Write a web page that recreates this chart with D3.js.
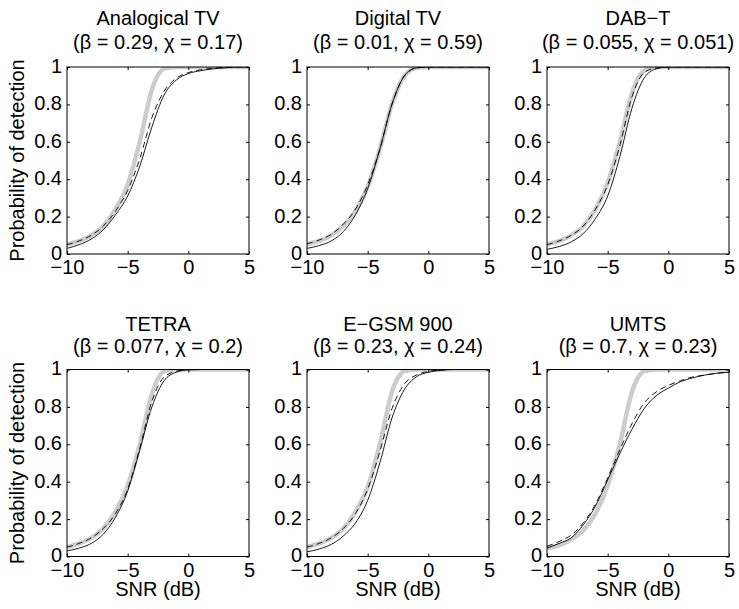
<!DOCTYPE html>
<html>
<head>
<meta charset="utf-8">
<script src="https://cdn.jsdelivr.net/npm/d3@7"></script>
<style>
  html, body { margin: 0; padding: 0; background: #fff; }
  text { font-family: "Liberation Sans", Arial, Helvetica, sans-serif; }
</style>
</head>
<body>
<svg id="chart" width="739" height="609"></svg>
<script>
// ---- data ----
const snr = [-10, -9, -8, -7, -6, -5, -4, -3, -2, -1, 0, 1, 2, 3, 4, 5];
const xTicks = [-10, -5, 0, 5];
const yTicks = [0, 0.2, 0.4, 0.6, 0.8, 1];
const yTickLabels = ["0", "0.2", "0.4", "0.6", "0.8", "1"];

const titles = ["Analogical TV", "Digital TV", "DAB\u2212T", "TETRA", "E\u2212GSM 900", "UMTS"];
const betas = ["0.29", "0.01", "0.055", "0.077", "0.23", "0.7"];
const chis = ["0.17", "0.59", "0.051", "0.2", "0.24", "0.23"];

// Analogical TV
const grayAnalog   = [0.05, 0.07, 0.10, 0.15, 0.24, 0.37, 0.60, 0.88, 0.99, 1, 1, 1, 1, 1, 1, 1];
const solidAnalog  = [0.03, 0.05, 0.08, 0.13, 0.21, 0.31, 0.47, 0.68, 0.85, 0.93, 0.965, 0.98, 0.99, 0.995, 1, 1];
const dashedAnalog = [0.05, 0.07, 0.10, 0.15, 0.23, 0.34, 0.51, 0.73, 0.87, 0.94, 0.97, 0.985, 0.993, 0.998, 1, 1];
// Digital TV
const grayDigital   = [0.05, 0.07, 0.10, 0.15, 0.23, 0.36, 0.56, 0.80, 0.95, 0.995, 1, 1, 1, 1, 1, 1];
const solidDigital  = [0.03, 0.045, 0.07, 0.12, 0.21, 0.35, 0.56, 0.80, 0.95, 0.995, 1, 1, 1, 1, 1, 1];
const dashedDigital = [0.055, 0.075, 0.105, 0.16, 0.24, 0.37, 0.56, 0.80, 0.95, 0.995, 1, 1, 1, 1, 1, 1];
// DAB-T
const grayDab   = [0.05, 0.07, 0.10, 0.15, 0.24, 0.38, 0.60, 0.86, 0.98, 1, 1, 1, 1, 1, 1, 1];
const solidDab  = [0.025, 0.04, 0.065, 0.11, 0.19, 0.31, 0.52, 0.78, 0.94, 0.99, 1, 1, 1, 1, 1, 1];
const dashedDab = [0.05, 0.07, 0.10, 0.15, 0.24, 0.37, 0.58, 0.84, 0.97, 0.995, 1, 1, 1, 1, 1, 1];
// TETRA
const grayTetra   = [0.05, 0.07, 0.10, 0.15, 0.24, 0.38, 0.60, 0.87, 0.99, 1, 1, 1, 1, 1, 1, 1];
const solidTetra  = [0.03, 0.045, 0.07, 0.12, 0.21, 0.35, 0.57, 0.80, 0.94, 0.985, 0.998, 1, 1, 1, 1, 1];
const dashedTetra = [0.05, 0.07, 0.10, 0.15, 0.23, 0.36, 0.58, 0.83, 0.96, 0.99, 1, 1, 1, 1, 1, 1];
// E-GSM 900
const grayGsm   = [0.05, 0.07, 0.10, 0.15, 0.24, 0.37, 0.60, 0.88, 0.99, 1, 1, 1, 1, 1, 1, 1];
const solidGsm  = [0.025, 0.04, 0.065, 0.11, 0.18, 0.30, 0.50, 0.74, 0.89, 0.96, 0.985, 0.995, 1, 1, 1, 1];
const dashedGsm = [0.05, 0.07, 0.10, 0.15, 0.23, 0.36, 0.56, 0.79, 0.92, 0.97, 0.99, 0.997, 1, 1, 1, 1];
// UMTS
const grayUmts   = [0.045, 0.06, 0.09, 0.14, 0.23, 0.38, 0.60, 0.88, 0.99, 1, 1, 1, 1, 1, 1, 1];
const solidUmts  = [0.045, 0.07, 0.10, 0.17, 0.27, 0.41, 0.55, 0.68, 0.79, 0.86, 0.90, 0.935, 0.955, 0.97, 0.98, 0.985];
const dashedUmts = [0.055, 0.08, 0.115, 0.18, 0.28, 0.42, 0.57, 0.71, 0.82, 0.88, 0.915, 0.94, 0.96, 0.97, 0.98, 0.985];

const grays = [grayAnalog, grayDigital, grayDab, grayTetra, grayGsm, grayUmts];
const solids = [solidAnalog, solidDigital, solidDab, solidTetra, solidGsm, solidUmts];
const dashes = [dashedAnalog, dashedDigital, dashedDab, dashedTetra, dashedGsm, dashedUmts];

// ---- layout ----
const colX = [67, 307, 547];
const rowY = [67, 369.5];
const W = 182, H = 187;
const FS = 20;

const svg = d3.select("#chart");

for (let i = 0; i < 6; i++) {
  const col = i % 3, row = Math.floor(i / 3);
  const g = svg.append("g").attr("transform", `translate(${colX[col]},${rowY[row]})`);
  const x = d3.scaleLinear().domain([-10, 5]).range([0, W]);
  const y = d3.scaleLinear().domain([0, 1]).range([H, 0]);

  const clipId = "clip" + i;
  g.append("clipPath").attr("id", clipId)
    .append("rect").attr("x", 0).attr("y", 0).attr("width", W).attr("height", H);

  const line = d3.line().x((d, k) => x(snr[k])).y(d => y(d)).curve(d3.curveMonotoneX);
  const lines = g.append("g").attr("clip-path", `url(#${clipId})`);
  lines.append("path").datum(grays[i]).attr("d", line)
    .attr("fill", "none").attr("stroke", "#cccccc").attr("stroke-width", 4.5);
  lines.append("path").datum(dashes[i]).attr("d", line)
    .attr("fill", "none").attr("stroke", "#000").attr("stroke-width", 0.9)
    .attr("stroke-dasharray", "6,4");
  lines.append("path").datum(solids[i]).attr("d", line)
    .attr("fill", "none").attr("stroke", "#000").attr("stroke-width", 0.9);

  // axes (ticks inside, box)
  const tl = 3;
  const axB = d3.axisBottom(x).tickValues(xTicks).tickSize(-tl).tickPadding(5)
    .tickFormat(d => d < 0 ? "\u2212" + Math.abs(d) : String(d));
  const axT = d3.axisTop(x).tickValues(xTicks).tickSize(-tl).tickFormat("");
  const axL = d3.axisLeft(y).tickValues(yTicks).tickSize(-tl).tickPadding(5)
    .tickFormat((d, k) => yTickLabels[k]);
  const axR = d3.axisRight(y).tickValues(yTicks).tickSize(-tl).tickFormat("");

  const gb = g.append("g").attr("transform", `translate(0,${H})`).call(axB);
  const gt = g.append("g").call(axT);
  const gl = g.append("g").call(axL);
  const gr = g.append("g").attr("transform", `translate(${W},0)`).call(axR);
  [gb, gt, gl, gr].forEach(a => {
    a.select(".domain").remove();
    a.selectAll(".tick line").attr("stroke", "#000").attr("stroke-width", 1);
    a.selectAll("text").attr("fill", "#000").style("font-size", FS + "px")
      .style("font-family", '"Liberation Sans", Arial, sans-serif');
  });
  gb.selectAll("text").attr("y", 0).attr("dy", "0").attr("transform", "translate(0,20)");
  gl.selectAll("text").attr("dy", "0.27em").attr("x", -5);

  g.append("rect").attr("x", 0).attr("y", 0).attr("width", W).attr("height", H)
    .attr("fill", "none").attr("stroke", "#000").attr("stroke-width", 1);

  // titles
  g.append("text").attr("x", W / 2).attr("y", -42 + (row ? 3 : 0))
    .attr("text-anchor", "middle").style("font-size", FS + "px").text(titles[i]);
  g.append("text").attr("x", W / 2).attr("y", -18 + (row ? 1 : 0))
    .attr("text-anchor", "middle").style("font-size", FS + "px")
    .text(`(\u03B2 = ${betas[i]}, \u03C7 = ${chis[i]})`);

  if (col === 0) {
    g.append("text").attr("transform", `translate(-43,${H / 2}) rotate(-90)`)
      .attr("text-anchor", "middle").style("font-size", FS + "px")
      .text("Probability of detection");
  }
  if (row === 1) {
    g.append("text").attr("x", W / 2).attr("y", H + 39)
      .attr("text-anchor", "middle").style("font-size", FS + "px").text("SNR (dB)");
  }
}
</script>
</body>
</html>
